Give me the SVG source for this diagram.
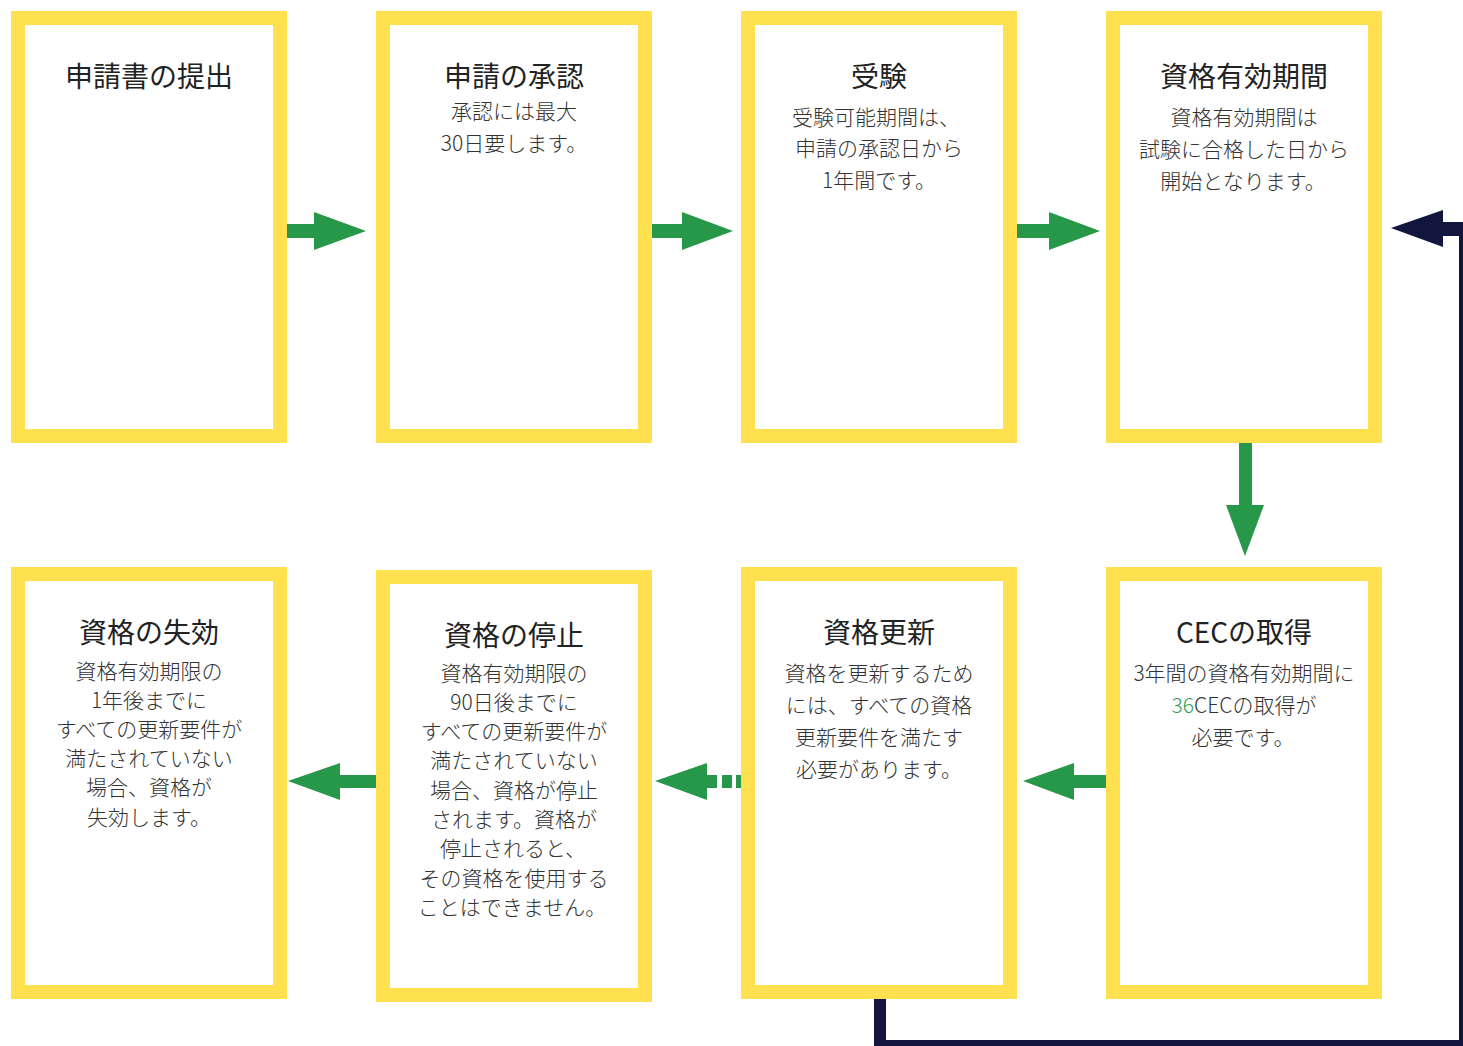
<svg xmlns="http://www.w3.org/2000/svg" width="1463" height="1046" viewBox="0 0 1463 1046">
<style>
.box{fill:#fff;stroke:#FFE04F;stroke-width:14}
.t{font-family:"Noto Sans CJK JP","Noto Sans",sans-serif;fill:#222;text-anchor:middle}
.h{font-size:28px;font-weight:400}
.b{font-size:21px;font-weight:300;fill:#333}
.g{fill:#27984A}
.n{fill:#11163F}
</style>
<rect width="1463" height="1046" fill="#fff"/>
<g id="n1"><rect class="box" x="18" y="18" width="262" height="418"/>
<text class="t h" x="149" y="87">申請書の提出</text></g>
<g id="n2"><rect class="box" x="383" y="18" width="262" height="418"/>
<text class="t h" x="514" y="87">申請の承認</text>
<text class="t b" x="514" y="119">承認には最大</text>
<text class="t b" x="514" y="151">30日要します。</text></g>
<g id="n3"><rect class="box" x="748" y="18" width="262" height="418"/>
<text class="t h" x="879" y="87">受験</text>
<text class="t b" x="876" y="125">受験可能期間は、</text>
<text class="t b" x="879" y="156">申請の承認日から</text>
<text class="t b" x="879" y="188">1年間です。</text></g>
<g id="n4"><rect class="box" x="1113" y="18" width="262" height="418"/>
<text class="t h" x="1244" y="87">資格有効期間</text>
<text class="t b" x="1244" y="125">資格有効期間は</text>
<text class="t b" x="1244" y="157">試験に合格した日から</text>
<text class="t b" x="1243" y="189">開始となります。</text></g>
<g id="n5"><rect class="box" x="1113" y="574" width="262" height="418"/>
<text class="t h" x="1244" y="643">CECの取得</text>
<text class="t b" x="1244" y="681">3年間の資格有効期間に</text>
<text class="t b" x="1244" y="713"><tspan fill="#2EA04F">36</tspan>CECの取得が</text>
<text class="t b" x="1243" y="745">必要です。</text></g>
<g id="n6"><rect class="box" x="748" y="574" width="262" height="418"/>
<text class="t h" x="879" y="643">資格更新</text>
<text class="t b" x="879" y="681">資格を更新するため</text>
<text class="t b" x="879" y="713">には、すべての資格</text>
<text class="t b" x="879" y="745">更新要件を満たす</text>
<text class="t b" x="879" y="777">必要があります。</text></g>
<g id="n7"><rect class="box" x="383" y="577" width="262" height="418"/>
<text class="t h" x="514" y="646">資格の停止</text>
<text class="t b" x="514" y="681">資格有効期限の</text>
<text class="t b" x="514" y="710">90日後までに</text>
<text class="t b" x="514" y="739">すべての更新要件が</text>
<text class="t b" x="514" y="768">満たされていない</text>
<text class="t b" x="514" y="798">場合、資格が停止</text>
<text class="t b" x="514" y="827">されます。資格が</text>
<text class="t b" x="513" y="856">停止されると、</text>
<text class="t b" x="514" y="886">その資格を使用する</text>
<text class="t b" x="512" y="915">ことはできません。</text></g>
<g id="n8"><rect class="box" x="18" y="574" width="262" height="418"/>
<text class="t h" x="149" y="643">資格の失効</text>
<text class="t b" x="149" y="679">資格有効期限の</text>
<text class="t b" x="149" y="708">1年後までに</text>
<text class="t b" x="149" y="737">すべての更新要件が</text>
<text class="t b" x="149" y="766">満たされていない</text>
<text class="t b" x="149" y="795">場合、資格が</text>
<text class="t b" x="149" y="825">失効します。</text></g>
<g id="connectors">
<polygon class="g" points="287,224 314,224 314,212 366,231 314,250 314,238 287,238"/>
<polygon class="g" points="652,224 682,224 682,212 733,231 682,250 682,238 652,238"/>
<polygon class="g" points="1017,224 1049,224 1049,212 1100,231 1049,250 1049,238 1017,238"/>
<polygon class="g" points="1239,443 1252,443 1252,505 1264,505 1245,556 1226,505 1239,505"/>
<polygon class="g" points="1106,775 1074,775 1074,763 1023,781 1074,800 1074,788 1106,788"/>
<polygon class="g" points="707,763 655,781 707,800"/>
<rect class="g" x="706" y="775" width="11" height="13"/>
<rect class="g" x="722" y="775" width="10" height="13"/>
<rect class="g" x="736" y="775" width="5" height="13"/>
<polygon class="g" points="376,775 340,775 340,763 288,781 340,800 340,788 376,788"/>
<polygon class="n" points="874,999 886,999 886,1040 1459,1040 1459,236 1443,236 1443,247 1391,228 1443,210 1443,222 1463,222 1463,1046 874,1046"/>
</g>
</svg>
